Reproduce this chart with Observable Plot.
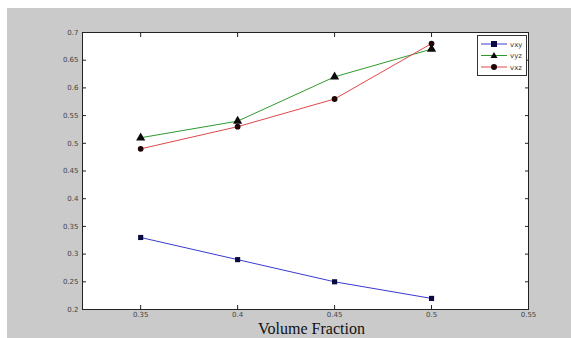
<!DOCTYPE html>
<html>
<head>
<meta charset="utf-8">
<script src="https://cdn.jsdelivr.net/npm/d3@7"></script>
<script src="https://cdn.jsdelivr.net/npm/@observablehq/plot@0.6"></script>
<style>
  html, body { margin: 0; padding: 0; background: #fff; }
  #wrap { position: absolute; left: 7px; top: 8px; width: 564px; height: 330px; background: #cacaca; overflow: hidden; }
  #legend { position: absolute; left: 470px; top: 27px; width: 48px; height: 39px; background: #fff; border: 1px solid #333; font-family: "DejaVu Sans", sans-serif; font-size: 7px; color: #333; }
</style>
</head>
<body>
<div id="wrap"></div>
<script>
const fractions = [0.35, 0.4, 0.45, 0.5];
const vxy = [0.33, 0.29, 0.25, 0.22];
const vyz = [0.51, 0.54, 0.62, 0.67];
const vxz = [0.49, 0.53, 0.58, 0.68];
const seriesNames = ["vxy", "vyz", "vxz"];
const xTicks = [0.35, 0.4, 0.45, 0.5, 0.55];
const yTicks = [0.2, 0.25, 0.3, 0.35, 0.4, 0.45, 0.5, 0.55, 0.6, 0.65, 0.7];
const xLabel = "Volume Fraction";

const lineColors = ["#3a3ad0", "#2e9a2e", "#e04848"];
const markFill = ["#0a0a40", "#0a0a0a", "#200606"];
const symbols = ["square", "triangle", "circle"];
const allSeries = [vxy, vyz, vxz];
const fmt = d => String(+d.toFixed(2));

const tables = allSeries.map((vals, s) => fractions.map((f, i) => ({x: f, y: vals[i], s: seriesNames[s]})));

const marks = [
  Plot.frame({fill: "white", stroke: "none"}),
];
tables.forEach((t, s) => {
  marks.push(Plot.line(t, {x: "x", y: "y", stroke: lineColors[s], strokeWidth: 1}));
});
tables.forEach((t, s) => {
  marks.push(Plot.dot(t, {x: "x", y: "y", symbol: () => symbols[s], r: s === 1 ? 3.4 : 2.9, fill: markFill[s], stroke: "none"}));
});
marks.push(
  Plot.axisX(xTicks, {anchor: "bottom", tickSize: 0, tickPadding: 3, tickFormat: fmt, fontSize: 7, fill: "#444", fontFamily: "DejaVu Sans", label: null}),
  Plot.axisX(xTicks, {anchor: "bottom", tickSize: 4, dy: -4, text: null, stroke: "#222", label: null}),
  Plot.axisX(xTicks, {anchor: "top", tickSize: 4, dy: 4, text: null, stroke: "#222", label: null}),
  Plot.axisY(yTicks, {anchor: "left", tickSize: 0, tickPadding: 4, tickFormat: fmt, fontSize: 7, fill: "#444", fontFamily: "DejaVu Sans", label: null}),
  Plot.axisY(yTicks, {anchor: "left", tickSize: 4, dx: 4, text: null, stroke: "#222", label: null}),
  Plot.axisY(yTicks, {anchor: "right", tickSize: 4, dx: -4, text: null, stroke: "#222", label: null}),
  Plot.frame({stroke: "#222", strokeWidth: 1}),
  Plot.text([xLabel], {frameAnchor: "bottom", dy: 24, dx: 6, text: d => d, fontSize: 16, fontFamily: "Liberation Serif", fill: "#111"})
);

const chart = Plot.plot({
  width: 564,
  height: 330,
  marginLeft: 75,
  marginRight: 43,
  marginTop: 24,
  marginBottom: 29,
  style: {background: "transparent", overflow: "visible"},
  x: {domain: [0.32, 0.55], label: null},
  y: {domain: [0.2, 0.7], label: null},
  marks
});
document.getElementById("wrap").appendChild(chart);

// legend
const leg = document.createElement("div");
leg.id = "legend";
const rowsY = [8, 19.5, 31];
let svg = `<svg width="48" height="39" style="position:absolute;left:0;top:0">`;
seriesNames.forEach((n, i) => {
  const y = rowsY[i];
  svg += `<line x1="3" x2="29" y1="${y}" y2="${y}" stroke="${lineColors[i]}" stroke-width="1"/>`;
  if (symbols[i] === "square") svg += `<rect x="13" y="${y-3}" width="6" height="6" fill="${markFill[i]}"/>`;
  else if (symbols[i] === "triangle") svg += `<path d="M16,${y-3.5}L19.5,${y+2.5}L12.5,${y+2.5}Z" fill="${markFill[i]}"/>`;
  else svg += `<circle cx="16" cy="${y}" r="3" fill="${markFill[i]}"/>`;
  svg += `<text x="32" y="${y+2.5}" font-size="7" font-family="DejaVu Sans" fill="#333">${n}</text>`;
});
svg += `</svg>`;
leg.innerHTML = svg;
document.getElementById("wrap").appendChild(leg);
</script>
</body>
</html>
